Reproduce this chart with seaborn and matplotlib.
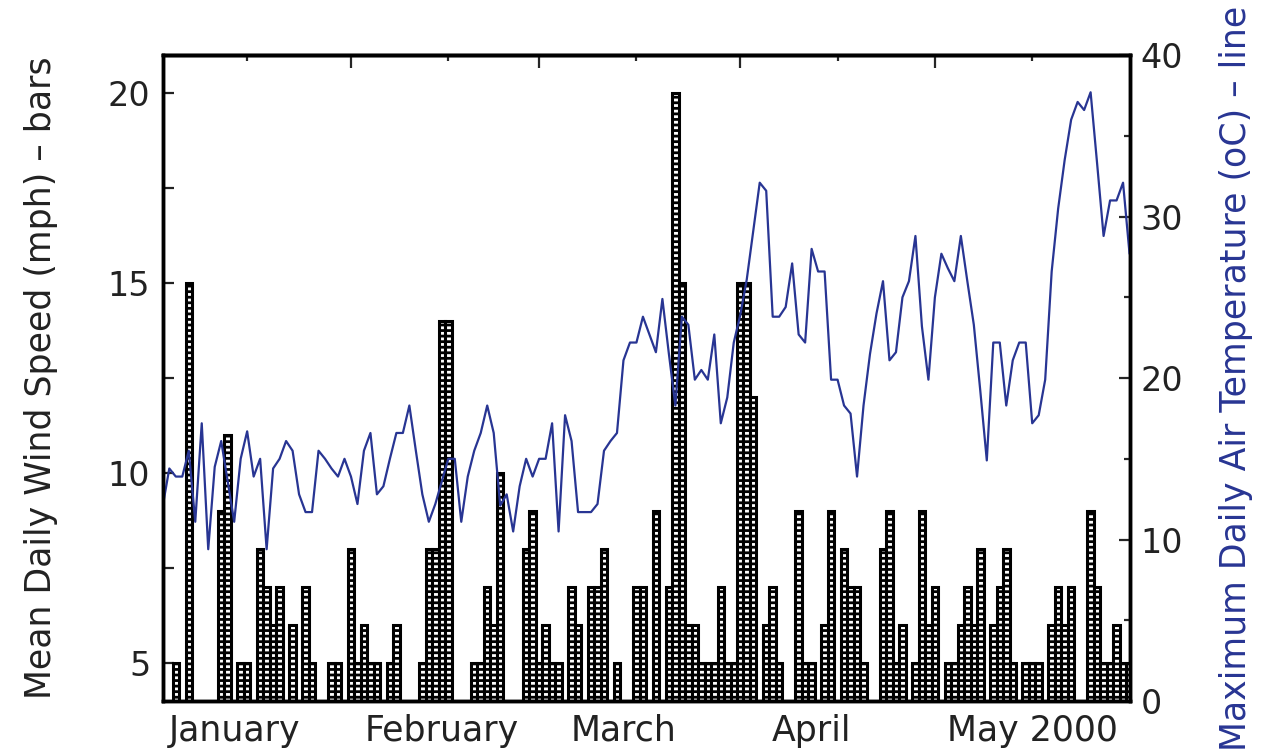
import numpy as np
import pandas as pd
import matplotlib.pyplot as plt
import seaborn as sns

# daily series, 3 Jan 2000 (day 0) .. 31 May 2000 (day 149)
days = list(range(150))

N = np.nan
wind_mph = [
    N, N, 5, N, 15, N, N, N, N, 9, 11, N, 5, 5, N, 8, 7, 6, 7, N,
    6, N, 7, 5, N, N, 5, 5, N, 8, 5, 6, 5, 5, N, 5, 6, N, N, N,
    5, 8, 8, 14, 14, N, N, N, 5, 5, 7, 6, 10, N, N, N, 8, 9, 5, 6,
    5, 5, N, 7, 6, N, 7, 7, 8, N, 5, N, N, 7, 7, N, 9, N, 7, 20,
    15, 6, 6, 5, 5, 5, 7, 5, 5, 15, 15, 12, N, 6, 7, 5, N, N, 9, 5,
    5, N, 6, 9, N, 8, 7, 7, 5, N, N, 8, 9, 5, 6, N, 5, 9, 6, 7,
    N, 5, 5, 6, 7, 6, 8, N, 6, 7, 8, 5, N, 5, 5, 5, N, 6, 7, 6,
    7, N, N, 9, 7, 5, 5, 6, 5, 5,
]

temp_c = [
    12.1, 14.4, 13.9, 13.9, 15.5, 11.1, 17.2, 9.4, 14.5, 16.1,
    13.6, 11.1, 15.0, 16.7, 13.9, 15.0, 9.4, 14.4, 15.0, 16.1,
    15.5, 12.8, 11.7, 11.7, 15.5, 15.0, 14.4, 13.9, 15.0, 13.9,
    12.2, 15.5, 16.6, 12.8, 13.3, 15.0, 16.6, 16.6, 18.3, 15.5,
    12.8, 11.1, 12.2, 13.6, 15.0, 15.0, 11.1, 13.9, 15.5, 16.6,
    18.3, 16.6, 12.1, 12.8, 10.5, 13.3, 15.0, 13.9, 15.0, 15.0,
    17.2, 10.5, 17.7, 16.1, 11.7, 11.7, 11.7, 12.2, 15.5, 16.1,
    16.6, 21.1, 22.2, 22.2, 23.8, 22.7, 21.6, 24.9, 21.5, 18.3,
    23.8, 23.3, 19.9, 20.5, 19.9, 22.7, 17.2, 18.8, 22.2, 23.9,
    26.1, 29.1, 32.1, 31.6, 23.8, 23.8, 24.4, 27.1, 22.7, 22.2,
    28.0, 26.6, 26.6, 19.9, 19.9, 18.3, 17.8, 13.9, 18.3, 21.5,
    24.0, 26.0, 21.1, 21.6, 25.0, 26.0, 28.8, 23.2, 19.9, 25.0,
    27.7, 26.8, 26.0, 28.8, 26.0, 23.3, 19.2, 14.9, 22.2, 22.2,
    18.3, 21.1, 22.2, 22.2, 17.2, 17.7, 19.9, 26.6, 30.5, 33.5,
    36.0, 37.1, 36.6, 37.7, 33.3, 28.8, 31.0, 31.0, 32.1, 27.7,
]

month_labels = ["January", "February", "March", "April", "May 2000"]
label_days = [11, 43, 71, 100, 134]
month_start_days = [29, 58, 89, 119]     # 1 Feb, 1 Mar, 1 Apr, 1 May
mid_month_days = [13, 44, 73, 104, 134]  # the 16th of each month

blue = "#283593"
ink = "#222222"

sns.set_theme(style="ticks")
plt.rcParams["font.family"] = ["DejaVu Sans"]
plt.rcParams["hatch.linewidth"] = 2.0

fig, ax = plt.subplots(figsize=(12.72, 7.55), dpi=100)
fig.subplots_adjust(left=0.128, right=0.888, top=0.927, bottom=0.0715)

df = pd.DataFrame({"day": days, "wind": wind_mph})
sns.barplot(data=df, x="day", y="wind", order=days, ax=ax, color="white",
            edgecolor="black", linewidth=2.2, width=1, hatch="---",
            errorbar=None, saturation=1)

ax.set_xlim(0, 149)
ax.set_ylim(4, 21)
ax.set_yticks([5, 10, 15, 20])
ax.set_yticks([7.5, 12.5, 17.5], minor=True)
ax.tick_params(axis="y", which="both", direction="in", length=8, width=1.6,
               labelsize=24, pad=9, colors=ink)
ax.set_xticks(label_days, month_labels)
ax.tick_params(axis="x", length=0, labelsize=25, pad=9, colors=ink)
ax.set_xlabel("")
ax.set_ylabel("Mean Daily Wind Speed (mph) – bars", fontsize=25, color=ink,
              labelpad=36)

top = ax.secondary_xaxis("top")
top.set_xticks(month_start_days)
top.set_xticks(mid_month_days, minor=True)
top.tick_params(which="major", direction="in", length=9, width=1.6, labeltop=False)
top.tick_params(which="minor", direction="in", length=4.5, width=1.6)
top.spines["top"].set_linewidth(2.5)

ax2 = ax.twinx()
sns.lineplot(x=days, y=temp_c, ax=ax2, color=blue, linewidth=1.6)
ax2.set_ylim(0, 40)
ax2.set_yticks([0, 10, 20, 30, 40])
ax2.set_yticks([5, 15, 25, 35], minor=True)
ax2.tick_params(axis="y", which="major", direction="in", length=8, width=1.6,
                labelsize=24, pad=8, labelcolor=ink)
ax2.tick_params(axis="y", which="minor", direction="in", length=4, width=1.6)
ax2.set_ylabel("Maximum Daily Air Temperature (oC) – line", fontsize=25,
               color=blue, labelpad=26)

for a in (ax, ax2):
    for s in a.spines.values():
        s.set_linewidth(2.5)
        s.set_color("black")

fig.savefig("out.png", dpi=100)
